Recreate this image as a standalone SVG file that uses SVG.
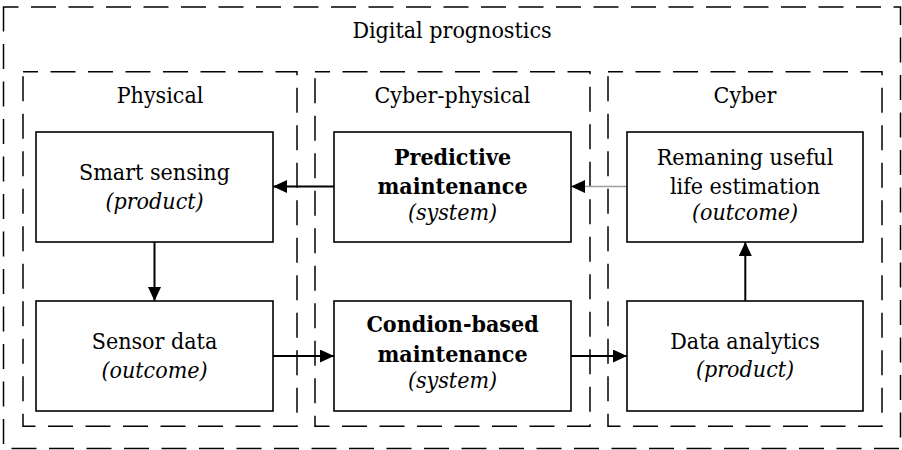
<svg xmlns="http://www.w3.org/2000/svg" width="902" height="450" viewBox="0 0 902 450">
  <style>
    text { font-family: "DejaVu Serif Condensed", "DejaVu Serif", serif; font-stretch: condensed; font-size: 23px; fill: #000; text-anchor: middle; }
    .b { font-weight: bold; }
    .i { font-style: italic; }
    .zone { fill: none; stroke: #000; stroke-width: 1.5; stroke-dasharray: 25 12.5; }
    .box { fill: #fff; stroke: #000; stroke-width: 1.6; }
    .link { fill: none; stroke: #000; stroke-width: 2; marker-end: url(#head); }
    .link.faint { stroke: #a0a0a0; stroke-width: 1.3; }
  </style>
  <defs>
    <marker id="head" markerUnits="userSpaceOnUse" markerWidth="14" markerHeight="13" refX="14" refY="6.5" orient="auto">
      <path d="M0,0 L14,6.5 L0,13 Z" fill="#000"/>
    </marker>
  </defs>

  <rect width="902" height="450" fill="#fff"/>

  <!-- outer frame -->
  <g id="digital-prognostics">
    <rect class="zone" x="3.5" y="7" width="897" height="441.5" stroke-dashoffset="10"/>
    <text x="452" y="38">Digital prognostics</text>
  </g>

  <!-- domain frames -->
  <g id="physical">
    <rect class="zone" x="23" y="71.7" width="274" height="354.5" stroke-dashoffset="10"/>
    <text x="160" y="103.3">Physical</text>
  </g>
  <g id="cyber-physical">
    <rect class="zone" x="315" y="71.7" width="275" height="354.5" stroke-dashoffset="10"/>
    <text x="452.5" y="103.3">Cyber-physical</text>
  </g>
  <g id="cyber">
    <rect class="zone" x="608" y="71.7" width="274" height="354.5" stroke-dashoffset="10"/>
    <text x="745" y="103.3">Cyber</text>
  </g>

  <!-- connectors -->
  <g id="connectors">
    <line class="link" x1="334" y1="186.5" x2="273" y2="186.5"/>
    <line class="link faint" x1="627" y1="186.5" x2="571" y2="186.5"/>
    <line class="link" x1="154.5" y1="242" x2="154.5" y2="301"/>
    <line class="link" x1="273" y1="356" x2="334" y2="356"/>
    <line class="link" x1="571" y1="356" x2="627" y2="356"/>
    <line class="link" x1="745.3" y1="301" x2="745.3" y2="242"/>
  </g>

  <!-- nodes -->
  <g id="smart-sensing">
    <rect class="box" x="36" y="132" width="237" height="110"/>
    <text x="154.5" y="180">Smart sensing</text>
    <text class="i" x="154.5" y="208.5">(product)</text>
  </g>
  <g id="sensor-data">
    <rect class="box" x="36" y="301" width="237" height="110"/>
    <text x="154.5" y="348.5">Sensor data</text>
    <text class="i" x="154.5" y="377.5">(outcome)</text>
  </g>
  <g id="predictive-maintenance">
    <rect class="box" x="334" y="132" width="237" height="110"/>
    <text class="b" x="452.5" y="164.5">Predictive</text>
    <text class="b" x="452.5" y="194">maintenance</text>
    <text class="i" x="452.5" y="219.5">(system)</text>
  </g>
  <g id="condition-based-maintenance">
    <rect class="box" x="334" y="301" width="237" height="110"/>
    <text class="b" x="452.5" y="332">Condion-based</text>
    <text class="b" x="452.5" y="362">maintenance</text>
    <text class="i" x="452.5" y="388">(system)</text>
  </g>
  <g id="remaining-useful-life">
    <rect class="box" x="627" y="132" width="236" height="110"/>
    <text x="745" y="164.5">Remaning useful</text>
    <text x="745" y="194">life estimation</text>
    <text class="i" x="745" y="219.5">(outcome)</text>
  </g>
  <g id="data-analytics">
    <rect class="box" x="627" y="301" width="236" height="110"/>
    <text x="745" y="348.5">Data analytics</text>
    <text class="i" x="745" y="377">(product)</text>
  </g>
</svg>
